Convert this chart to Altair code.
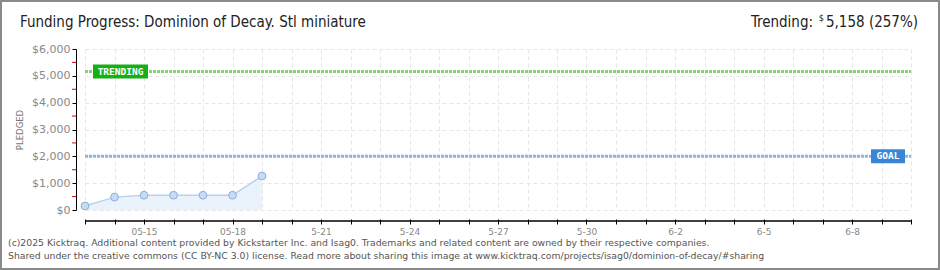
import json
import altair as alt
import pandas as pd

# ---- data ----
days = [0, 1, 2, 3, 4, 5, 6]
pledged = [150, 480, 550, 550, 550, 550, 1265]
x_tick_days = list(range(29))
x_label_days = [2, 5, 8, 11, 14, 17, 20, 23, 26]
x_label_text = ["05-15", "05-18", "5-21", "5-24", "5-27", "5-30", "6-2", "6-5", "6-8"]
y_ticks = [0, 1000, 2000, 3000, 4000, 5000, 6000]
y_minor = [500, 1500, 2500, 3500, 4500, 5500]
goal_value = [2000]
trend_value = [5158]
title_text = "Funding Progress: Dominion of Decay. Stl miniature"
trend_label = "Trending:"
trend_amount = "5,158 (257%)"
footer_lines = [
    "(c)2025 Kicktraq. Additional content provided by Kickstarter Inc. and Isag0. Trademarks and related content are owned by their respective companies.",
    "Shared under the creative commons (CC BY-NC 3.0) license. Read more about sharing this image at www.kicktraq.com/projects/isag0/dominion-of-decay/#sharing",
]

W, H = 826, 161
PAD = {"left": 85, "top": 49, "right": 29, "bottom": 60}

df = pd.DataFrame({"day": days, "pledged": pledged})
one = pd.DataFrame({"a": [0]})

xscale = alt.Scale(domain=[0, 28], nice=False, zero=False)
yscale = alt.Scale(domain=[0, 6000], nice=False)

label_expr = "indexof({d}, datum.value) >= 0 ? {t}[indexof({d}, datum.value)] : ''".format(
    d=json.dumps(x_label_days), t=json.dumps(x_label_text))

sans = "DejaVu Sans"
narrow = "Liberation Sans Narrow, DejaVu Sans Condensed, Roboto Condensed, Liberation Sans"

x_axis = alt.Axis(values=x_tick_days, labelExpr=label_expr, grid=True, gridColor="#e6e6e6",
                  gridDash=[4, 3], domain=False, tickColor="#000", tickSize=5, offset=9,
                  labelColor="#888", labelFont=sans, labelFontSize=9, labelPadding=3,
                  title=None, labelFlush=False)
y_axis = alt.Axis(values=y_ticks, format="$,.0f", grid=True, gridColor="#e6e6e6", gridDash=[4, 3],
                  domainColor="#000", tickColor="#000", tickSize=4, offset=9, labelColor="#888",
                  labelFont=sans, labelFontSize=11, labelPadding=2, title=None)


def Y(field):
    return alt.Y(field, scale=yscale, axis=y_axis)


border = alt.Chart(one).mark_rect(fillOpacity=0, stroke="#8a8a8a", strokeWidth=2).encode(
    x=alt.value(-84), x2=alt.value(854), y=alt.value(-48), y2=alt.value(220))

base = alt.Chart(df).encode(x=alt.X("day:Q", scale=xscale, axis=x_axis), y=Y("pledged:Q"))
area = base.mark_area(color="#eaf2fc")
line = base.mark_line(color="#b9d2ef", strokeWidth=1.5)
pts = base.mark_circle(size=60, color="#c6dcf5", opacity=1, stroke="#8eaed8", strokeWidth=1)

xaxis_line = alt.Chart(one).mark_rule(color="#000", strokeWidth=1.5).encode(
    x=alt.value(0), x2=alt.value(W), y=alt.value(172))

minor = alt.Chart(pd.DataFrame({"pledged": y_minor})).mark_rule(color="#e00000", strokeWidth=1).encode(
    x=alt.value(-13), x2=alt.value(-9), y=Y("pledged:Q"))

trend_df = pd.DataFrame({"pledged": trend_value, "t": ["TRENDING"]})
goal_df = pd.DataFrame({"pledged": goal_value, "t": ["GOAL"]})

trend_line = alt.Chart(trend_df).mark_rule(color="#86d07a", strokeWidth=3, strokeDash=[3, 1]).encode(
    x=alt.value(0), x2=alt.value(W), y=Y("pledged:Q"))
goal_line = alt.Chart(goal_df).mark_rule(color="#8fb3df", strokeWidth=3, strokeDash=[3, 1]).encode(
    x=alt.value(0), x2=alt.value(W), y=Y("pledged:Q"))

trend_box = alt.Chart(trend_df).mark_rule(color="#16b016", strokeWidth=14, strokeCap="butt").encode(
    x=alt.value(8), x2=alt.value(63), y=Y("pledged:Q"))
goal_box = alt.Chart(goal_df).mark_rule(color="#3a86d4", strokeWidth=14, strokeCap="butt").encode(
    x=alt.value(786), x2=alt.value(820), y=Y("pledged:Q"))
trend_txt = alt.Chart(trend_df).mark_text(color="#fff", font="DejaVu Sans Mono", fontSize=9.5,
                                          fontWeight="bold", baseline="middle").encode(
    x=alt.value(35.5), y=Y("pledged:Q"), text="t:N")
goal_txt = alt.Chart(goal_df).mark_text(color="#fff", font="DejaVu Sans Mono", fontSize=9.5,
                                        fontWeight="bold", baseline="middle").encode(
    x=alt.value(803), y=Y("pledged:Q"), text="t:N")

title = alt.Chart(pd.DataFrame({"t": [title_text]})).mark_text(
    align="left", baseline="middle", font=narrow, fontSize=15, color="#222").encode(
    x=alt.value(-65), y=alt.value(-27), text="t:N")
tr1 = alt.Chart(pd.DataFrame({"t": [trend_amount]})).mark_text(
    align="right", baseline="middle", font=narrow, fontSize=15, color="#222").encode(
    x=alt.value(833), y=alt.value(-27), text="t:N")
tr2 = alt.Chart(pd.DataFrame({"t": ["$"]})).mark_text(
    align="right", baseline="middle", font=narrow, fontSize=9, color="#222").encode(
    x=alt.value(739), y=alt.value(-31), text="t:N")
tr3 = alt.Chart(pd.DataFrame({"t": [trend_label]})).mark_text(
    align="right", baseline="middle", font=narrow, fontSize=15, color="#222").encode(
    x=alt.value(728), y=alt.value(-27), text="t:N")

ytitle = alt.Chart(pd.DataFrame({"t": ["PLEDGED"]})).mark_text(
    angle=270, baseline="middle", align="center", font=sans, fontSize=8.5, color="#777").encode(
    x=alt.value(-65), y=alt.value(81), text="t:N")

footer = alt.Chart(pd.DataFrame({"t": ["\n".join(footer_lines)]})).mark_text(
    align="left", baseline="middle", font=sans, fontSize=9.3, color="#555",
    lineBreak="\n", lineHeight=13).encode(
    x=alt.value(-77), y=alt.value(194), text="t:N")

chart = alt.layer(
    border, area, line, pts, trend_line, goal_line, trend_box, goal_box, trend_txt, goal_txt,
    minor, xaxis_line, title, tr1, tr2, tr3, ytitle, footer
).properties(
    width=W, height=H, padding=PAD, autosize=alt.AutoSizeParams(type="none"), background="#fff"
).configure_view(stroke=None)

chart.save("out.html", embed_options={"renderer": "svg", "actions": False})
